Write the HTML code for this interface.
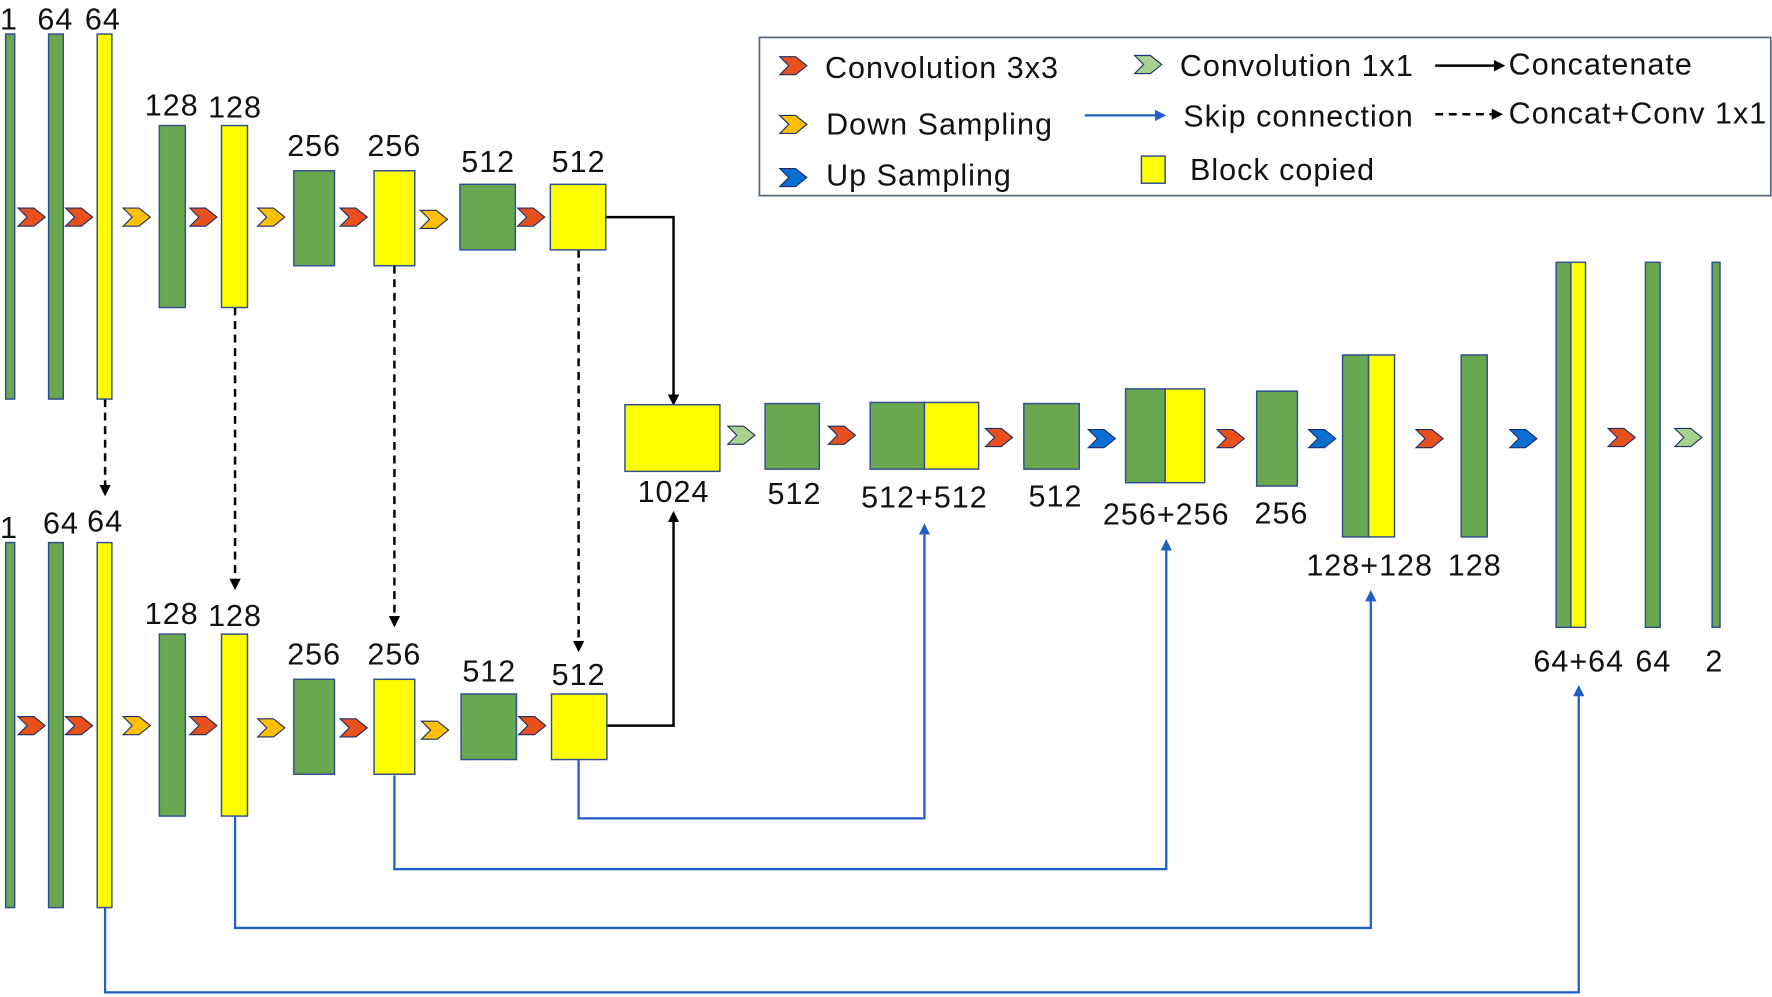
<!DOCTYPE html>
<html><head><meta charset="utf-8"><style>
html,body{margin:0;padding:0;background:#fff}
svg{display:block}
text{font-family:"Liberation Sans",Arial,sans-serif;font-size:27px;letter-spacing:0.9px;fill:#111}
.g{fill:#6aa84f;stroke:#2f4f8f;stroke-width:1.3}
.y{fill:#ffff00;stroke:#2f4f8f;stroke-width:1.3}
.bl{stroke:#1f5fc4;stroke-width:2;fill:none}
.bk{stroke:#000;stroke-width:2.2;fill:none}
.ds{stroke:#000;stroke-width:2.2;fill:none;stroke-dasharray:7,5}
</style></head><body>
<svg width="1772" height="997" viewBox="0 0 1568 882" xmlns="http://www.w3.org/2000/svg">
<defs>
<path id="ch" d="M-12,-8 L2,-8 L12,0 L2,8 L-12,8 L-4,0Z" stroke="#1c2f6b" stroke-width="1"/>
<marker id="ab" markerWidth="10" markerHeight="10" refX="8" refY="5" orient="auto" markerUnits="userSpaceOnUse"><path d="M0,0 L10,5 L0,10Z" fill="#000"/></marker>
<marker id="au" markerWidth="10" markerHeight="10" refX="8" refY="5" orient="auto" markerUnits="userSpaceOnUse"><path d="M0,0 L10,5 L0,10Z" fill="#1f5fc4"/></marker>
</defs>

<!-- legend -->
<rect x="672" y="33" width="895" height="140" fill="#fff" stroke="#56657a" stroke-width="1.5"/>
<use href="#ch" x="702" y="58" fill="#e8501c"/><text x="730" y="69">Convolution 3x3</text>
<use href="#ch" x="702" y="110" fill="#ffc000"/><text x="731" y="119">Down Sampling</text>
<use href="#ch" x="702" y="157" fill="#0a6fd0"/><text x="731" y="164">Up Sampling</text>
<use href="#ch" x="1016" y="57" fill="#a9d18e"/><text x="1044" y="67">Convolution 1x1</text>
<line x1="960" y1="102" x2="1030" y2="102" class="bl" marker-end="url(#au)"/><text x="1047" y="112">Skip connection</text>
<rect x="1010" y="138" width="21" height="24" class="y"/><text x="1053" y="159">Block copied</text>
<line x1="1270" y1="58" x2="1330" y2="58" class="bk" marker-end="url(#ab)"/><text x="1335" y="66">Concatenate</text>
<line x1="1270" y1="101" x2="1328" y2="101" class="ds" marker-end="url(#ab)"/><text x="1335" y="109">Concat+Conv 1x1</text>

<!-- connectors -->
<line x1="93" y1="353" x2="93" y2="437" class="ds" marker-end="url(#ab)"/>
<line x1="208" y1="272" x2="208" y2="520" class="ds" marker-end="url(#ab)"/>
<line x1="349" y1="235" x2="349" y2="553" class="ds" marker-end="url(#ab)"/>
<line x1="512" y1="221" x2="512" y2="575" class="ds" marker-end="url(#ab)"/>
<polyline points="536,192 596,192 596,357" class="bk" marker-end="url(#ab)"/>
<polyline points="537,642 596,642 596,454" class="bk" marker-end="url(#ab)"/>
<polyline points="512,672 512,724 818,724 818,465" class="bl" marker-end="url(#au)"/>
<polyline points="349,686 349,769 1032,769 1032,479" class="bl" marker-end="url(#au)"/>
<polyline points="208,722 208,821 1213,821 1213,524" class="bl" marker-end="url(#au)"/>
<polyline points="93,803 93,878 1397,878 1397,608" class="bl" marker-end="url(#au)"/>

<!-- top row -->
<g>
<rect x="5" y="30" width="8" height="323" class="g"/>
<rect x="43" y="30" width="13" height="323" class="g"/>
<rect x="86" y="30" width="13" height="323" class="y"/>
<rect x="141" y="111" width="23" height="161" class="g"/>
<rect x="196" y="111" width="23" height="161" class="y"/>
<rect x="260" y="151" width="36" height="84" class="g"/>
<rect x="331" y="151" width="36" height="84" class="y"/>
<rect x="407" y="163" width="49" height="58" class="g"/>
<rect x="487" y="163" width="49" height="58" class="y"/>
<g text-anchor="middle">
<text x="8" y="26">1</text><text x="49" y="26">64</text><text x="91" y="26">64</text>
<text x="152" y="102">128</text><text x="208" y="104">128</text>
<text x="278" y="138">256</text><text x="349" y="138">256</text>
<text x="432" y="152">512</text><text x="512" y="152">512</text>
</g>
<use href="#ch" x="28" y="192" fill="#e8501c"/><use href="#ch" x="70" y="192" fill="#e8501c"/>
<use href="#ch" x="121" y="192" fill="#ffc000"/><use href="#ch" x="180" y="192" fill="#e8501c"/>
<use href="#ch" x="240" y="192" fill="#ffc000"/><use href="#ch" x="313" y="192" fill="#e8501c"/>
<use href="#ch" x="384" y="194" fill="#ffc000"/><use href="#ch" x="470" y="192" fill="#e8501c"/>
</g>

<!-- bottom row -->
<g transform="translate(0,450)">
<rect x="5" y="30" width="8" height="323" class="g"/>
<rect x="43" y="30" width="13" height="323" class="g"/>
<rect x="86" y="30" width="13" height="323" class="y"/>
<rect x="141" y="111" width="23" height="161" class="g"/>
<rect x="196" y="111" width="23" height="161" class="y"/>
<rect x="260" y="151" width="36" height="84" class="g"/>
<rect x="331" y="151" width="36" height="84" class="y"/>
<rect x="408" y="164" width="49" height="58" class="g"/>
<rect x="488" y="164" width="49" height="58" class="y"/>
<g text-anchor="middle">
<text x="8" y="26">1</text><text x="54" y="22">64</text><text x="93" y="20">64</text>
<text x="152" y="102">128</text><text x="208" y="104">128</text>
<text x="278" y="138">256</text><text x="349" y="138">256</text>
<text x="433" y="153">512</text><text x="512" y="156">512</text>
</g>
<use href="#ch" x="28" y="192" fill="#e8501c"/><use href="#ch" x="70" y="192" fill="#e8501c"/>
<use href="#ch" x="121" y="192" fill="#ffc000"/><use href="#ch" x="180" y="192" fill="#e8501c"/>
<use href="#ch" x="240" y="194" fill="#ffc000"/><use href="#ch" x="313" y="194" fill="#e8501c"/>
<use href="#ch" x="385" y="196" fill="#ffc000"/><use href="#ch" x="471" y="192" fill="#e8501c"/>
</g>

<!-- decoder -->
<rect x="553" y="358" width="84" height="59" class="y"/>
<use href="#ch" x="656" y="385" fill="#a9d18e"/>
<rect x="677" y="357" width="48" height="58" class="g"/>
<use href="#ch" x="745" y="385" fill="#e8501c"/>
<rect x="770" y="356" width="48" height="59" class="g"/><rect x="818" y="356" width="48" height="59" class="y"/>
<use href="#ch" x="884" y="387" fill="#e8501c"/>
<rect x="906" y="357" width="49" height="58" class="g"/>
<use href="#ch" x="975" y="388" fill="#0a6fd0"/>
<rect x="996" y="344" width="35" height="83" class="g"/><rect x="1031" y="344" width="35" height="83" class="y"/>
<use href="#ch" x="1089" y="388" fill="#e8501c"/>
<rect x="1112" y="346" width="36" height="84" class="g"/>
<use href="#ch" x="1170" y="388" fill="#0a6fd0"/>
<rect x="1188" y="314" width="23" height="161" class="g"/><rect x="1211" y="314" width="23" height="161" class="y"/>
<use href="#ch" x="1265" y="388" fill="#e8501c"/>
<rect x="1293" y="314" width="23" height="161" class="g"/>
<use href="#ch" x="1348" y="388" fill="#0a6fd0"/>
<rect x="1377" y="232" width="13" height="323" class="g"/><rect x="1390" y="232" width="13" height="323" class="y"/>
<use href="#ch" x="1435" y="387" fill="#e8501c"/>
<rect x="1456" y="232" width="13" height="323" class="g"/>
<use href="#ch" x="1494" y="387" fill="#a9d18e"/>
<rect x="1515" y="232" width="7" height="323" class="g"/>
<g text-anchor="middle">
<text x="596" y="444">1024</text><text x="703" y="446">512</text><text x="818" y="449">512+512</text>
<text x="934" y="448">512</text><text x="1032" y="464">256+256</text><text x="1134" y="463">256</text>
<text x="1212" y="509">128+128</text><text x="1305" y="509">128</text>
<text x="1397" y="594">64+64</text><text x="1463" y="594">64</text><text x="1517" y="594">2</text>
</g>
</svg>
</body></html>
